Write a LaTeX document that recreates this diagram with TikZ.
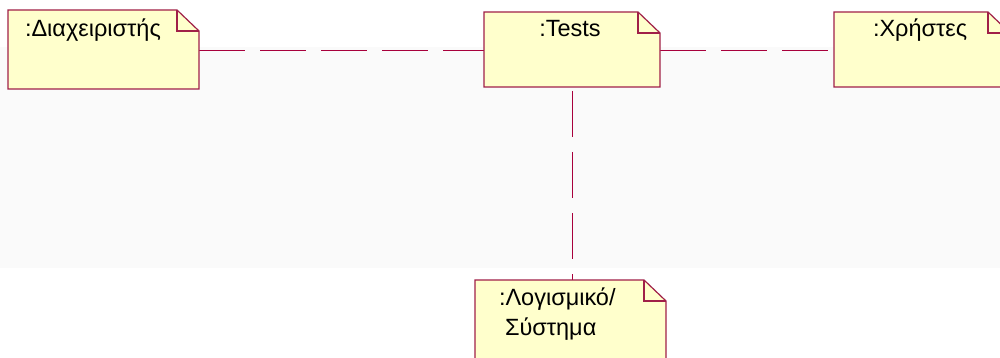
\documentclass[tikz,border=0pt]{standalone}
\usepackage{fontspec}
\setmainfont{Liberation Sans}
\usetikzlibrary{positioning}
\definecolor{linecol}{HTML}{A8003C}
\definecolor{boxedge}{HTML}{A02048}
\definecolor{boxfill}{HTML}{FFFFCC}
\definecolor{bandcol}{HTML}{FAFAFA}
\tikzset{
  notebox/.style={draw=none, fill=none, inner sep=0pt, outer sep=0pt},
  notetext/.style={inner sep=0pt, outer sep=0pt, font=\fontsize{23.5}{28}\selectfont, text=black},
  link/.style={draw=linecol, line width=1pt, dash pattern=on 46pt off 15pt},
}
\newcommand{\foldnote}[1]{%
  \draw[boxedge, line width=1.2pt, fill=boxfill]
    (#1.north west) -- ([xshift=-22pt]#1.north east) -- ([yshift=-21pt]#1.north east)
    -- (#1.south east) -- (#1.south west) -- cycle;
  \draw[boxedge, line width=1.2pt]
    ([xshift=-22pt]#1.north east) -- ([xshift=-22pt,yshift=-21pt]#1.north east)
    -- ([yshift=-21pt]#1.north east);
}
\begin{document}
\begin{tikzpicture}[x=1pt,y=-1pt]
\useasboundingbox (0,0) rectangle (1000,358);
\clip (0,0) rectangle (1000,358);
\fill[white] (0,0) rectangle (1000,358);
\fill[bandcol] (0,47) rectangle (1000,268);
% box geometry
\node[notebox, minimum width=191pt, minimum height=79pt] (admin) at (103.5,49.5) {};
\node[notebox, minimum width=176pt, minimum height=75pt] (tests) at (572,49.5) {};
\node[notebox, minimum width=176pt, minimum height=75pt] (users) at (922,49.5) {};
\node[notebox, minimum width=191pt, minimum height=100pt] (soft) at (570.5,330) {};
% connectors
\draw[link] ([yshift=-1.5pt]admin.east) -- ([yshift=-1.5pt]tests.west);
\draw[link] ([yshift=-1.5pt]tests.east) -- ([yshift=-1.5pt]users.west);
\draw[link] ([yshift=-4pt]tests.south) -- (soft.north -| tests.south);
% boxes
\foldnote{admin}
\foldnote{tests}
\foldnote{users}
\foldnote{soft}
% texts
\node[notetext, anchor=base west] (admint) at (25,37) {:Διαχειριστής};
\node[notetext, anchor=base] (testst) at (570,37) {:Tests};
\node[notetext, anchor=base west] (userst) at (873,37) {:Χρήστες};
\node[notetext, anchor=base west] (softt1) at (499,305) {:Λογισμικό/};
\node[notetext, anchor=base west] (softt2) at (505,335) {Σύστημα};
\end{tikzpicture}
\end{document}
